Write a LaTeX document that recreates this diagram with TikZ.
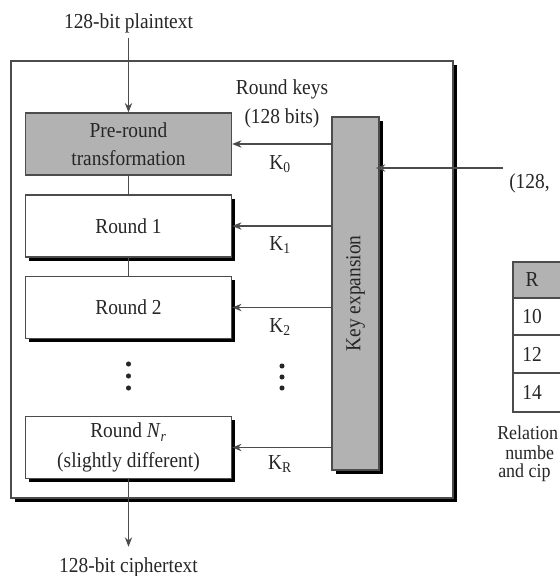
\documentclass[tikz,border=0pt]{standalone}
\usepackage{fontspec}
\setmainfont{Liberation Serif}[FakeStretch=0.91]
\usetikzlibrary{arrows.meta}
\begin{document}
\begin{tikzpicture}[x=0.75pt,y=-0.75pt,
  base/.style={font=\fontsize{16}{21}\selectfont, text=black!85, inner sep=0pt, align=center},
  captxt/.style={font=\fontsize{14.8}{16}\selectfont, text=black!85, inner sep=0pt, anchor=west},
  ln/.style={draw=black!70, line width=1pt},
  arr/.style={ln, -{Stealth[length=7pt,width=5.5pt]}},
  shad/.style={preaction={fill=black, transform canvas={xshift=2.8pt,yshift=-2.8pt}}},
  box/.style={base, ln, fill=white, minimum width=0.75*206pt, minimum height=0.75*62pt},
  dotnode/.style={circle, fill=black!85, inner sep=0pt, minimum size=3.8pt},
]
\useasboundingbox (0,0) rectangle (560,576);
\clip (0,0) rectangle (560,576);

% outer frame
\node[ln, fill=white, shad, minimum width=0.75*442pt, minimum height=0.75*437pt, inner sep=0pt] (frame) at (232,279.5) {};

% left column
\node[base, outer sep=4pt] (pt) at (128.5,23) {128-bit plaintext};
\node[box, fill=black!30] (pre) at (128.5,144) {Pre-round\\transformation};
\node[box, shad] (r1) at (128.5,226) {Round 1};
\node[box, shad] (r2) at (128.5,307.5) {Round 2};
\node[box, shad, font=\fontsize{16}{22}\selectfont] (rn) at (128.5,447.5) {Round \textit{N}\textsubscript{\textit{r}}\\(slightly different)};
\node[base, outer sep=8pt] (ct) at (128.5,567) {128-bit ciphertext};

\node[dotnode] (ld1) at (128.5,364) {};
\node[dotnode] (ld2) at (128.5,376) {};
\node[dotnode] (ld3) at (128.5,388) {};

\draw[arr] (pt) -- (pre);
\draw[ln] (pre) -- (r1);
\draw[ln] (r1) -- (r2);
\draw[arr] (rn) -- (ct);

% key expansion
\node[base, ln, fill=black!30, shad, minimum width=0.75*47pt, minimum height=0.75*353pt] (ke) at (355.5,293.5) {\rotatebox{90}{Key expansion}};

\node[base, font=\fontsize{16}{21.5}\selectfont] (rk) at (282,104) {Round keys\\(128 bits)};

\draw[arr] (ke.west |- pre.east) -- (pre.east);
\draw[arr] (ke.west |- r1.east) -- (r1.east);
\draw[arr] (ke.west |- r2.east) -- (r2.east);
\draw[arr] (ke.west |- rn.east) -- (rn.east);

\node[base] (k0) at (280,164) {K\textsubscript{0}};
\node[base] (k1) at (280,245) {K\textsubscript{1}};
\node[base] (k2) at (280,327) {K\textsubscript{2}};
\node[base] (kr) at (280,464) {K\textsubscript{R}};

\node[dotnode] (rd1) at (282,366) {};
\node[dotnode] (rd2) at (282,377) {};
\node[dotnode] (rd3) at (282,388) {};

% cipher key input (cut at the right edge in the reference)
\coordinate (ckin) at (503,168);
\node[base, anchor=west] (ck) at (509,183) {(128,};
\draw[arr, shorten >=-2.8pt] (ckin) -- (ke.east |- ckin);

% table
\fill[black!30] (513,262) rectangle (600,298);
\draw[ln] (513,262) rectangle (600,412);
\draw[ln] (513,298) -- (600,298);
\draw[ln] (513,335) -- (600,335);
\draw[ln] (513,373) -- (600,373);
\node[base] (tR) at (532,280) {R};
\node[base] (t10) at (532,316.5) {10};
\node[base] (t12) at (532,354) {12};
\node[base] (t14) at (532,392.5) {14};

\node[captxt] (cap1) at (497,433) {Relation};
\node[captxt] (cap2) at (505,453) {numbe};
\node[captxt] (cap3) at (498,473) {and cip};
\end{tikzpicture}
\end{document}
